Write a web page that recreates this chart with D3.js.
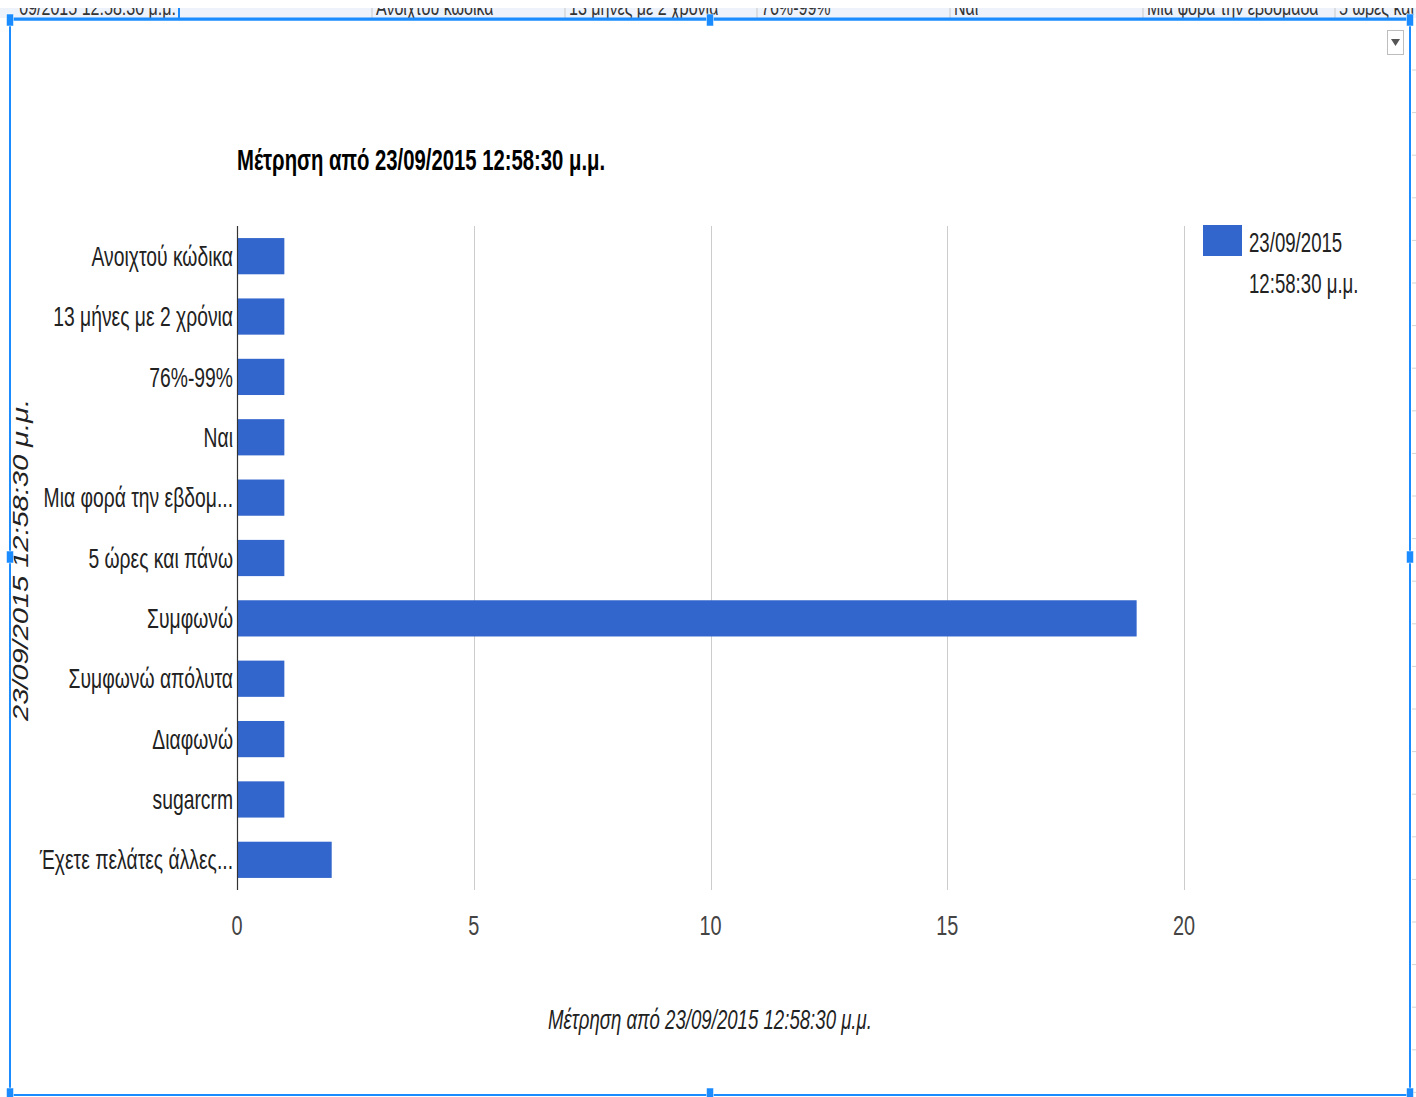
<!DOCTYPE html>
<html>
<head>
<meta charset="utf-8">
<script src="https://cdn.jsdelivr.net/npm/d3@7"></script>
<style>
  html, body { margin: 0; padding: 0; background: #fff; }
  svg { display: block; }
  text { font-family: "Liberation Sans", Arial, sans-serif; }
</style>
</head>
<body>
<svg id="chart" width="1416" height="1097"></svg>
<script>
// Chart data
const categories = [
  "Ανοιχτού κώδικα",
  "13 μήνες με 2 χρόνια",
  "76%-99%",
  "Ναι",
  "Μια φορά την εβδομ...",
  "5 ώρες και πάνω",
  "Συμφωνώ",
  "Συμφωνώ απόλυτα",
  "Διαφωνώ",
  "sugarcrm",
  "Έχετε πελάτες άλλες..."
];
const counts = [1, 1, 1, 1, 1, 1, 19, 1, 1, 1, 2];
const xTicks = [0, 5, 10, 15, 20];
const seriesName = ["23/09/2015", "12:58:30 μ.μ."];
const chartTitle = "Μέτρηση από 23/09/2015 12:58:30 μ.μ.";
const xAxisTitle = "Μέτρηση από 23/09/2015 12:58:30 μ.μ.";
const yAxisTitle = "23/09/2015 12:58:30 μ.μ.";

// Spreadsheet row peeking above the chart frame
const sheetCells = [
  { text: "09/2015 12:58:30 μ.μ.", end: 176, anchor: "end" },
  { text: "Ανοιχτού κώδικα", start: 376 },
  { text: "13 μήνες με 2 χρόνια", start: 569 },
  { text: "76%-99%", start: 761 },
  { text: "Ναι", start: 954 },
  { text: "Μια φορά την εβδομάδα", start: 1147 },
  { text: "5 ώρες και πάνω", start: 1339 }
];
const sheetDividers = [372, 565, 757, 950, 1143, 1335];

const SX = 0.71;          // horizontal compression of the chart lettering
const BLUE = "#3366cc";
const FRAME = "#1a8cff";

const svg = d3.select("#chart");

// Helper: condensed text at (x, y)
function ctext(g, x, y, str, opts = {}) {
  const t = g.append("g")
    .attr("transform", `translate(${x},${y}) scale(${opts.sx ?? SX},1)`)
    .append("text")
    .attr("x", 0).attr("y", 0)
    .attr("text-anchor", opts.anchor || "start")
    .attr("dominant-baseline", opts.baseline || "auto")
    .attr("font-size", opts.size || 27)
    .attr("fill", opts.fill || "#222")
    .text(str);
  if (opts.weight) t.attr("font-weight", opts.weight);
  if (opts.italic) t.attr("font-style", "italic");
  return t;
}

// ---------- spreadsheet strip ----------
const strip = svg.append("g");
svg.append("clipPath").attr("id", "stripClip")
  .append("rect").attr("x", 0).attr("y", 8).attr("width", 1416).attr("height", 10);
strip.append("rect").attr("x", 0).attr("y", 8).attr("width", 1416).attr("height", 10)
  .attr("fill", "#edf2fb");
const stripText = strip.append("g").attr("clip-path", "url(#stripClip)");
sheetCells.forEach(c => {
  ctext(stripText, c.anchor === "end" ? c.end : c.start, 15, c.text,
    { anchor: c.anchor || "start", size: 22, fill: "#333", sx: 0.73 });
});
sheetDividers.forEach(x => {
  strip.append("line").attr("x1", x).attr("x2", x).attr("y1", 8).attr("y2", 18)
    .attr("stroke", "#c8c8c8").attr("stroke-width", 1);
});
strip.append("line").attr("x1", 179).attr("x2", 179).attr("y1", 8).attr("y2", 18)
  .attr("stroke", FRAME).attr("stroke-width", 2);

// faint sheet gridlines to the right of the frame
d3.range(70, 1097, 42.6).forEach(y => {
  svg.append("line").attr("x1", 1412).attr("x2", 1416).attr("y1", y).attr("y2", y)
    .attr("stroke", "#d4d4d4").attr("stroke-width", 1);
});

// ---------- chart ----------
const plot = { left: 237, right: 1184, top: 226, bottom: 890 };

const x = d3.scaleLinear().domain([0, 20]).range([plot.left, plot.right]);
const y = d3.scaleBand().domain(categories).range([plot.top, plot.bottom])
  .paddingInner(0.4).paddingOuter(0.2);

const g = svg.append("g");

// vertical gridlines
g.append("g").selectAll("line").data(xTicks.filter(d => d > 0)).join("line")
  .attr("x1", d => Math.round(x(d)) + 0.5).attr("x2", d => Math.round(x(d)) + 0.5)
  .attr("y1", plot.top).attr("y2", plot.bottom)
  .attr("stroke", "#cccccc").attr("stroke-width", 1);

// bars
g.append("g").selectAll("rect").data(categories).join("rect")
  .attr("x", x(0))
  .attr("y", d => y(d))
  .attr("width", (d, i) => x(counts[i]) - x(0))
  .attr("height", y.bandwidth())
  .attr("fill", BLUE);

// baseline
g.append("line")
  .attr("x1", x(0) + 0.5).attr("x2", x(0) + 0.5)
  .attr("y1", plot.top).attr("y2", plot.bottom)
  .attr("stroke", "#333").attr("stroke-width", 1.2);

// category labels
categories.forEach(c => {
  ctext(g, plot.left - 4, y(c) + y.bandwidth() / 2 + 2.5, c,
    { anchor: "end", baseline: "middle", size: 27, fill: "#222", sx: 0.715 });
});

// tick labels
xTicks.forEach(t => {
  ctext(g, x(t), 935, d3.format("d")(t), { anchor: "middle", size: 28, fill: "#444" });
});

// title
ctext(g, 237, 170, chartTitle, { size: 29, weight: "bold", fill: "#000", sx: 0.70 });

// axis titles
ctext(g, 710, 1029, xAxisTitle, { anchor: "middle", size: 27, italic: true, fill: "#222", sx: 0.69 });
g.append("text")
  .attr("transform", `translate(28,560) rotate(-90) scale(1,0.75)`)
  .attr("text-anchor", "middle")
  .attr("font-size", 29)
  .attr("font-style", "italic")
  .attr("fill", "#222")
  .text(yAxisTitle);

// legend
const legend = g.append("g");
legend.append("rect").attr("x", 1203).attr("y", 225).attr("width", 39).attr("height", 31)
  .attr("fill", BLUE);
ctext(legend, 1249, 252, seriesName[0], { size: 27, fill: "#222", sx: 0.69 });
ctext(legend, 1249, 293, seriesName[1], { size: 27, fill: "#222", sx: 0.69 });

// ---------- selection frame ----------
const frame = svg.append("g");
frame.append("rect").attr("x", 10).attr("y", 19.5).attr("width", 1400).attr("height", 1075.5)
  .attr("fill", "none").attr("stroke", FRAME).attr("stroke-width", 2);
frame.append("line").attr("x1", 10).attr("x2", 1410).attr("y1", 19).attr("y2", 19)
  .attr("stroke", FRAME).attr("stroke-width", 3);
const handles = [
  [10, 20], [710, 20], [1410, 20],
  [10, 557], [1410, 557],
  [10, 1094], [710, 1094], [1410, 1094]
];
frame.selectAll("rect.h").data(handles).join("rect").attr("class", "h")
  .attr("x", d => d[0] - 3.5).attr("y", d => d[1] - 6)
  .attr("width", 7).attr("height", 12)
  .attr("fill", FRAME).attr("stroke", "#fff").attr("stroke-width", 0.5);

// chart menu button
frame.append("rect").attr("x", 1387.5).attr("y", 30.5).attr("width", 16).attr("height", 24)
  .attr("fill", "#fff").attr("stroke", "#bdbdbd").attr("stroke-width", 1);
frame.append("path").attr("d", "M1391,39 L1400,39 L1395.5,46 Z").attr("fill", "#555");
</script>
</body>
</html>
